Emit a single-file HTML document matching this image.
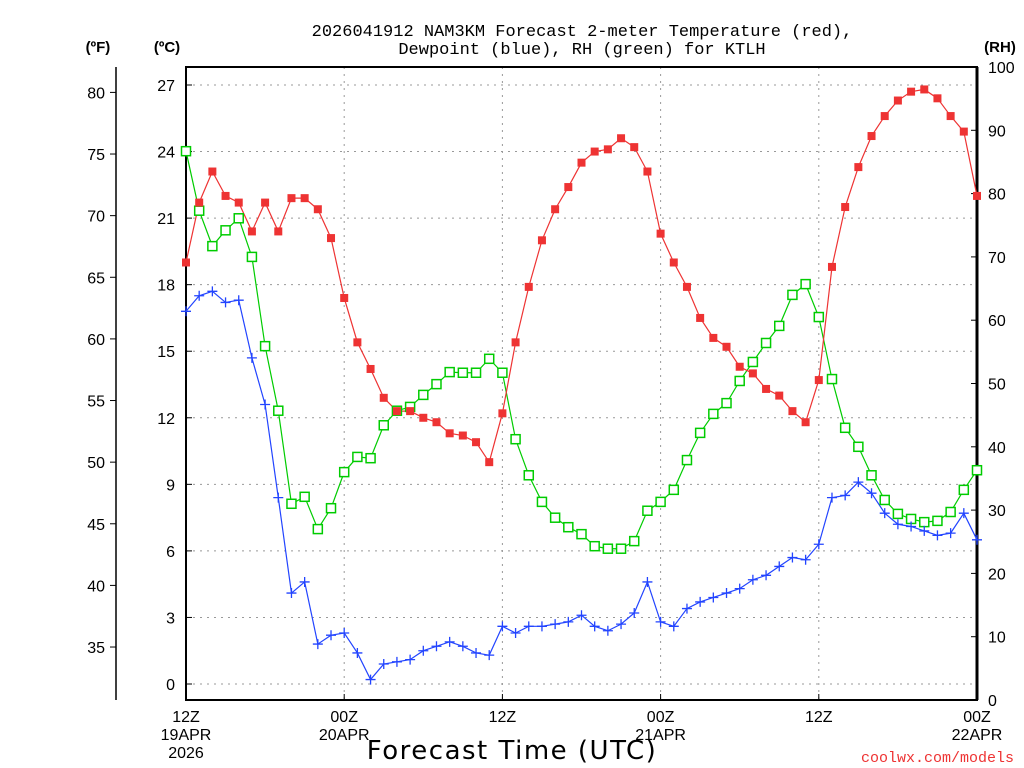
<!DOCTYPE html>
<html><head><meta charset="utf-8"><style>
html,body{margin:0;padding:0;background:#fff;}
svg{display:block;font-family:"Liberation Sans",sans-serif;}
</style></head><body>
<svg id="chart" width="1024" height="768" viewBox="0 0 1024 768">
<g id="grid"></g>
<g id="axes"></g>
<g id="series"></g>
<text x="582" y="36" text-anchor="middle" font-family="Liberation Mono, monospace" font-size="17">2026041912 NAM3KM Forecast 2-meter Temperature (red),</text>
<text x="582" y="54" text-anchor="middle" font-family="Liberation Mono, monospace" font-size="17">Dewpoint (blue), RH (green) for KTLH</text>
<text x="98" y="52" text-anchor="middle" font-size="15" font-weight="bold">(ºF)</text>
<text x="167" y="52" text-anchor="middle" font-size="15" font-weight="bold">(ºC)</text>
<text x="1000" y="52" text-anchor="middle" font-size="15" font-weight="bold">(RH)</text>
<text x="512" y="759" text-anchor="middle" font-family="DejaVu Sans, sans-serif" font-size="26" letter-spacing="1.5">Forecast Time (UTC)</text>
<text x="1014" y="762" text-anchor="end" font-family="Liberation Mono, monospace" font-size="15" fill="#ee3333">coolwx.com/models</text>
</svg>
<script>
const hours = Array.from({length:61},(_,i)=>i);
const tempC = [19.0,21.7,23.1,22.0,21.7,20.4,21.7,20.4,21.9,21.9,21.4,20.1,17.4,15.4,14.2,12.9,12.3,12.3,12.0,11.8,11.3,11.2,10.9,10.0,12.2,15.4,17.9,20.0,21.4,22.4,23.5,24.0,24.1,24.6,24.2,23.1,20.3,19.0,17.9,16.5,15.6,15.2,14.3,14.0,13.3,13.0,12.3,11.8,13.7,18.8,21.5,23.3,24.7,25.6,26.3,26.7,26.8,26.4,25.6,24.9,22.0];
const dewC = [16.8,17.5,17.7,17.2,17.3,14.7,12.6,8.4,4.1,4.6,1.8,2.2,2.3,1.4,0.2,0.9,1.0,1.1,1.5,1.7,1.9,1.7,1.4,1.3,2.6,2.3,2.6,2.6,2.7,2.8,3.1,2.6,2.4,2.7,3.2,4.6,2.8,2.6,3.4,3.7,3.9,4.1,4.3,4.7,4.9,5.3,5.7,5.6,6.3,8.4,8.5,9.1,8.6,7.7,7.2,7.1,6.9,6.7,6.8,7.7,6.5];
const rh = [86.7,77.3,71.7,74.2,76.1,70.0,55.9,45.7,31.0,32.1,27.0,30.3,36.0,38.4,38.2,43.4,45.7,46.3,48.2,49.9,51.8,51.7,51.7,53.9,51.7,41.2,35.5,31.3,28.8,27.3,26.2,24.3,23.9,23.9,25.1,29.9,31.3,33.2,37.9,42.2,45.2,46.9,50.4,53.4,56.4,59.1,64.0,65.7,60.5,50.7,43.0,40.0,35.5,31.6,29.4,28.6,28.1,28.3,29.7,33.2,36.3];
const cTicks = [0,3,6,9,12,15,18,21,24,27];
const fTicks = [35,40,45,50,55,60,65,70,75,80];
const rhTicks = [0,10,20,30,40,50,60,70,80,90,100];
const timeTicks = [0,12,24,36,48,60];
const timeLabels = [["12Z","19APR","2026"],["00Z","20APR"],["12Z"],["00Z","21APR"],["12Z"],["00Z","22APR"]];

const NS="http://www.w3.org/2000/svg";
const X0=186,X1=977,Y0=700,YT=67;
const xS=h=>X0+(X1-X0)*h/60;
const yC=c=>684-c*22.185;
const yF=f=>yC((f-32)*5/9);
const yR=r=>Y0-(Y0-YT)*r/100;
function mk(tag,attrs,parent){const e=document.createElementNS(NS,tag);for(const k in attrs)e.setAttribute(k,attrs[k]);parent.appendChild(e);return e;}
const grid=document.getElementById('grid'),axes=document.getElementById('axes'),ser=document.getElementById('series');

cTicks.forEach(c=>{
  const l=mk('line',{x1:X0,x2:X1,y1:yC(c),y2:yC(c),stroke:'#999','stroke-dasharray':'2,5'},grid);
  
  
  const t=mk('line',{x1:X0,x2:X0+6,y1:yC(c),y2:yC(c),stroke:'#000'},axes);
  
  
  const tx=mk('text',{x:175,y:yC(c)+6,'text-anchor':'end','font-size':'16'},axes);tx.textContent=c;
  
  
});
timeTicks.slice(1,5).forEach(h=>{
  const l=mk('line',{x1:xS(h),x2:xS(h),y1:YT,y2:Y0,stroke:'#999','stroke-dasharray':'2,5'},grid);
  
  
});
timeTicks.forEach((h,i)=>{
  const t=mk('line',{x1:xS(h),x2:xS(h),y1:Y0,y2:Y0-6,stroke:'#000'},axes);
  
  
  timeLabels[i].forEach((s,j)=>{
    const tx=mk('text',{x:xS(h),y:722+j*18,'text-anchor':'middle','font-size':'16'},axes);tx.textContent=s;
    
    
  });
});
fTicks.forEach(f=>{
  const t=mk('line',{x1:110,x2:116,y1:yF(f),y2:yF(f),stroke:'#000'},axes);
  
  
  const tx=mk('text',{x:105,y:yF(f)+6,'text-anchor':'end','font-size':'16'},axes);tx.textContent=f;
  
  
});
rhTicks.forEach(r=>{
  const t=mk('line',{x1:X1-6,x2:X1,y1:yR(r),y2:yR(r),stroke:'#000'},axes);
  
  
  const tx=mk('text',{x:988,y:yR(r)+6,'text-anchor':'start','font-size':'16'},axes);tx.textContent=r;
  
  
});
const fl=mk('line',{x1:116,x2:116,y1:YT,y2:Y0,stroke:'#000','stroke-width':1.5},axes);


const frame=mk('path',{d:`M${X0},${YT}H${X1}V${Y0}H${X0}Z`,fill:'none',stroke:'#000','stroke-width':2},axes);


const rl=mk('line',{x1:X1,x2:X1,y1:YT,y2:Y0,stroke:'#000','stroke-width':3},axes);



function line(vals,yf,color,name){
  const p=mk('polyline',{points:vals.map((v,i)=>xS(hours[i])+','+yf(v)).join(' '),fill:'none',stroke:color,'stroke-width':1.2},ser);
  
  
}
line(rh,yR,'#00cc00','rh-line');
line(tempC,yC,'#ee3333','temperature-line');
line(dewC,yC,'#2244ff','dewpoint-line');
rh.forEach((v,i)=>{
  const r=mk('rect',{x:xS(hours[i])-4.5,y:yR(v)-4.5,width:9,height:9,fill:'#fff',stroke:'#00cc00','stroke-width':1.5},ser);
  
  
});
tempC.forEach((v,i)=>{
  const r=mk('rect',{x:xS(hours[i])-4,y:yC(v)-4,width:8,height:8,fill:'#ee3333'},ser);
  
  
});
dewC.forEach((v,i)=>{
  const x=xS(hours[i]),y=yC(v);
  const p=mk('path',{d:`M${x-5},${y}H${x+5}M${x},${y-5}V${y+5}`,stroke:'#2244ff','stroke-width':1.3},ser);
  
  
});
</script>
</body></html>
